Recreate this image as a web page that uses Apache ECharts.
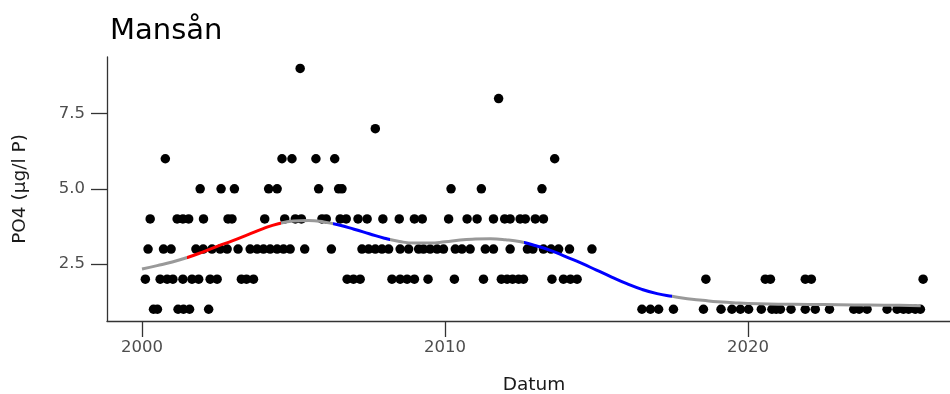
<!DOCTYPE html>
<html>
<head>
<meta charset="utf-8">
<title>Mansån</title>
<script src="https://cdn.jsdelivr.net/npm/echarts@6/dist/echarts.min.js"></script>
<style>
  html, body { margin: 0; padding: 0; background: #fff; overflow: hidden; }
  #chart { width: 950px; height: 394px; }
</style>
</head>
<body>
<div id="chart"></div>
<script>
// sample dates (decimal years) per measured PO4 level
const yearsAt1 = [2000.38, 2000.51, 2001.19, 2001.37, 2001.57, 2002.20, 2016.50, 2016.78, 2017.05, 2017.54,
  2018.53, 2019.11, 2019.47, 2019.75, 2020.02, 2020.44, 2020.79, 2020.93, 2021.07, 2021.42, 2021.89, 2022.22,
  2022.69, 2023.49, 2023.67, 2023.93, 2024.59, 2024.92, 2025.13, 2025.30, 2025.52, 2025.69]
const yearsAt2 = [2000.11, 2000.60, 2000.83, 2001.02, 2001.35, 2001.65, 2001.87, 2002.25, 2002.48, 2003.28,
  2003.45, 2003.68, 2006.77, 2006.98, 2007.20, 2008.25, 2008.52, 2008.75, 2008.99, 2009.44, 2010.31, 2011.27,
  2011.86, 2012.05, 2012.23, 2012.43, 2012.59, 2013.53, 2013.91, 2014.14, 2014.36, 2018.61, 2020.57, 2020.74,
  2021.89, 2022.09, 2025.78]
const yearsAt3 = [2000.20, 2000.71, 2000.96, 2001.78, 2002.02, 2002.31, 2002.58, 2002.81, 2003.17, 2003.57,
  2003.80, 2004.01, 2004.23, 2004.46, 2004.67, 2004.89, 2005.37, 2006.25, 2007.26, 2007.48, 2007.70, 2007.92,
  2008.14, 2008.52, 2008.80, 2009.13, 2009.29, 2009.51, 2009.74, 2009.95, 2010.34, 2010.56, 2010.83, 2011.33,
  2011.60, 2012.15, 2012.72, 2012.90, 2013.25, 2013.50, 2013.75, 2014.11, 2014.85]
const yearsAt4 = [2000.27, 2001.16, 2001.35, 2001.54, 2002.03, 2002.84, 2002.97, 2004.05, 2004.71, 2005.06,
  2005.26, 2005.94, 2006.08, 2006.54, 2006.74, 2007.13, 2007.43, 2007.95, 2008.49, 2008.99, 2009.25, 2010.12,
  2010.73, 2011.06, 2011.60, 2011.97, 2012.15, 2012.48, 2012.65, 2012.98, 2013.25]
const yearsAt5 = [2001.92, 2002.61, 2003.05, 2004.18, 2004.46, 2005.83, 2006.49, 2006.60, 2010.20, 2011.20, 2013.20]
const yearsAt6 = [2000.77, 2004.62, 2004.95, 2005.74, 2006.36, 2013.62]
const yearsAt7 = [2007.70]
const yearsAt8 = [2011.77]
const yearsAt9 = [2005.22]

// smoothed trend
const trendYears = [2000.0, 2000.5, 2001.0, 2001.5, 2002.0, 2002.5, 2003.0, 2003.5, 2004.0, 2004.5, 2005.0,
  2005.5, 2006.0, 2006.5, 2007.0, 2007.5, 2008.0, 2008.5, 2009.0, 2009.5, 2010.0, 2010.5, 2011.0, 2011.5,
  2012.0, 2012.5, 2013.0, 2013.5, 2014.0, 2014.5, 2015.0, 2015.5, 2016.0, 2016.5, 2017.0, 2017.5, 2018.0,
  2018.5, 2019.0, 2019.5, 2020.0, 2021.0, 2022.0, 2023.0, 2024.0, 2025.0, 2025.7]
const trendValues = [2.34, 2.45, 2.57, 2.72, 2.90, 3.10, 3.28, 3.48, 3.68, 3.84, 3.93,
  3.95, 3.90, 3.80, 3.66, 3.51, 3.36, 3.25, 3.20, 3.20, 3.24, 3.30, 3.33, 3.34,
  3.31, 3.24, 3.11, 2.95, 2.74, 2.53, 2.30, 2.07, 1.85, 1.66, 1.52, 1.43, 1.35,
  1.30, 1.25, 1.22, 1.19, 1.17, 1.16, 1.15, 1.14, 1.13, 1.12]

// where the trend changes colour (increasing = red, decreasing = blue)
const segmentBreaks = [2001.5, 2004.6, 2006.3, 2008.2, 2012.6, 2017.5]
const segmentColors = ['#999999', '#ff0000', '#999999', '#0000ff', '#999999', '#0000ff', '#999999']

const xTicks = [2000, 2010, 2020]
const yTicks = [2.5, 5.0, 7.5]

const levels = [yearsAt1, yearsAt2, yearsAt3, yearsAt4, yearsAt5, yearsAt6, yearsAt7, yearsAt8, yearsAt9]
const samples = []
levels.forEach((years, i) => {
  years.forEach(y => samples.push([y, i + 1]))
})
const trend = trendYears.map((y, i) => [y, trendValues[i]])

const pieces = segmentColors.map((color, i) => {
  const p = { color }
  if (i > 0) p.gte = segmentBreaks[i - 1]
  if (i < segmentBreaks.length) p.lt = segmentBreaks[i]
  return p
})

const font = 'DejaVu Sans'
const chart = echarts.init(document.getElementById('chart'))
chart.setOption({
  animation: false,
  title: {
    text: 'Mansån',
    left: 105,
    top: 12,
    textStyle: { fontFamily: font, fontSize: 29, fontWeight: 'normal', color: '#000' }
  },
  // the panel runs a little past the right edge of the picture
  grid: { left: 107, right: -11, top: 57, bottom: 73, outerBoundsMode: 'none', containLabel: false },
  xAxis: {
    type: 'value',
    min: 1998.845,
    max: 2027.03,
    name: 'Datum',
    nameLocation: 'middle',
    nameGap: 55,
    nameTextStyle: { fontFamily: font, fontSize: 18.5, color: '#1a1a1a' },
    splitLine: { show: false },
    axisLine: { lineStyle: { color: '#333', width: 1.3 } },
    axisTick: { customValues: xTicks, length: 16, lineStyle: { color: '#333', width: 1.3 } },
    axisLabel: {
      customValues: xTicks,
      margin: 18,
      fontFamily: font, fontSize: 16.5, color: '#4d4d4d',
      formatter: v => String(Math.round(v))
    }
  },
  yAxis: {
    type: 'value',
    min: 0.61,
    max: 9.38,
    name: 'PO4 (µg/l P)',
    nameLocation: 'middle',
    nameGap: 77,
    nameTextStyle: { fontFamily: font, fontSize: 18.5, color: '#1a1a1a' },
    splitLine: { show: false },
    axisLine: { show: true, lineStyle: { color: '#333', width: 1.3 } },
    axisTick: { show: true, customValues: yTicks, length: 16, lineStyle: { color: '#333', width: 1.3 } },
    axisLabel: {
      customValues: yTicks,
      margin: 22,
      fontFamily: font, fontSize: 16.5, color: '#4d4d4d',
      formatter: v => v.toFixed(1)
    }
  },
  visualMap: {
    type: 'piecewise',
    show: false,
    dimension: 0,
    seriesIndex: 1,
    pieces
  },
  series: [
    {
      type: 'scatter',
      data: samples,
      symbolSize: 9.5,
      itemStyle: { color: '#000', opacity: 1 }
    },
    {
      type: 'line',
      data: trend,
      smooth: true,
      symbol: 'none',
      z: 3,
      lineStyle: { width: 3 }
    }
  ]
})
</script>
</body>
</html>
